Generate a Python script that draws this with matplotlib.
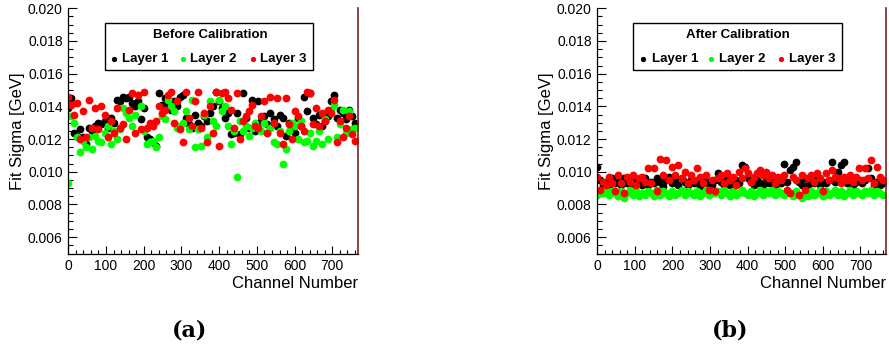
import matplotlib
matplotlib.use("Agg")
import matplotlib.pyplot as plt
from matplotlib.patches import Rectangle
from matplotlib.ticker import MultipleLocator, FormatStrFormatter

plt.rcParams['font.family'] = ['Liberation Sans', 'DejaVu Sans']

# channel numbers (one point every 8 channels per layer)
channels = list(range(0, 768, 8))

# ---- Before calibration: fit sigma in MeV ----
before_layer1 = [
    13.9, 14.5, 12.4, 12.2, 12.6, 12.1, 11.7, 12.7,
    12.5, 12.8, 13.0, 12.9, 13.1, 12.7, 13.3, 13.0,
    14.4, 14.3, 14.6, 14.5, 14.6, 14.2, 14.0, 14.3,
    13.2, 13.9, 12.1, 12.0, 11.8, 11.6, 14.8, 14.1,
    14.5, 14.1, 13.8, 14.3, 14.0, 14.6, 14.7, 13.3,
    12.9, 12.7, 13.5, 13.0, 12.8, 13.4, 13.1, 13.6,
    14.0, 14.9, 14.3, 13.9, 13.3, 13.6, 12.3, 12.4,
    13.6, 12.3, 14.8, 13.3, 12.7, 14.4, 12.5, 14.3,
    13.1, 13.4, 12.9, 13.6, 13.2, 12.8, 13.5, 13.3,
    12.2, 13.0, 12.6, 12.4, 13.3, 12.8, 14.6, 13.7,
    14.8, 13.3, 12.9, 13.5, 12.8, 13.1, 13.4, 14.3,
    14.7, 13.3, 13.8, 13.6, 13.2, 13.8, 13.4, 13.0,
]
before_layer2 = [
    9.3, 13.4, 13.0, 12.1, 11.2, 11.9, 11.5, 12.1,
    11.4, 12.2, 11.9, 11.8, 12.4, 12.8, 11.7, 12.5,
    12.0, 12.6, 13.9, 13.6, 13.3, 12.8, 13.5, 14.7,
    14.0, 12.5, 11.7, 11.8, 11.9, 11.5, 12.1, 13.4,
    13.2, 14.4, 14.0, 13.7, 12.7, 12.8, 13.0, 13.7,
    12.6, 14.4, 11.5, 12.6, 11.6, 13.5, 12.1, 14.3,
    13.1, 12.8, 14.4, 13.7, 14.0, 12.8, 11.7, 12.5,
    9.7, 13.1, 12.5, 12.8, 12.2, 12.7, 13.0, 12.7,
    12.5, 13.0, 12.4, 12.7, 11.8, 11.7, 12.5, 10.5,
    11.4, 12.5, 13.0, 12.8, 12.0, 13.1, 11.8, 11.9,
    12.4, 11.6, 11.9, 12.5, 11.7, 13.2, 12.0, 13.8,
    14.1, 12.1, 12.9, 13.8, 12.4, 13.7, 12.6, 12.7,
]
before_layer3 = [
    14.6, 14.1, 13.5, 14.2, 12.0, 13.7, 12.1, 14.4,
    12.7, 13.9, 12.6, 14.0, 13.5, 12.1, 13.1, 12.4,
    13.9, 12.7, 12.9, 12.0, 13.8, 14.8, 12.4, 14.7,
    12.6, 14.9, 12.7, 13.0, 12.8, 13.1, 14.0, 13.6,
    13.8, 14.7, 14.9, 13.0, 14.3, 12.6, 11.8, 14.9,
    13.3, 12.8, 14.3, 14.9, 12.7, 13.6, 11.8, 14.0,
    12.4, 14.9, 11.6, 14.8, 14.9, 14.5, 13.8, 12.7,
    14.8, 12.0, 13.1, 13.4, 13.7, 14.1, 12.8, 12.7,
    13.4, 14.3, 12.4, 14.6, 13.0, 14.5, 12.4, 11.7,
    14.5, 12.9, 12.0, 13.7, 13.4, 12.8, 12.5, 14.9,
    14.8, 12.9, 13.9, 12.8, 13.6, 13.1, 13.8, 13.6,
    14.4, 11.8, 13.1, 12.1, 12.7, 13.4, 12.3, 11.9,
]

# ---- After calibration: fit sigma in MeV ----
after_layer1 = [
    10.3, 9.5, 9.2, 9.4, 9.1, 9.6, 9.3, 9.4,
    9.2, 9.6, 9.3, 9.5, 9.1, 9.5, 9.4, 9.2,
    9.6, 9.2, 9.4, 9.3, 9.6, 9.4, 9.1, 9.5,
    9.7, 9.3, 9.5, 9.2, 9.6, 9.4, 9.2, 9.5,
    9.3, 9.5, 9.1, 9.6, 9.3, 9.4, 9.2, 9.5,
    9.9, 9.4, 9.2, 9.6, 9.2, 9.4, 9.5, 9.3,
    10.4, 10.3, 9.6, 9.4, 9.2, 9.5, 9.3, 9.2,
    9.6, 9.3, 9.4, 9.1, 9.5, 9.3, 10.5, 9.4,
    10.1, 10.3, 10.6, 9.4, 9.2, 9.6, 9.2, 9.4,
    9.3, 9.6, 9.2, 9.4, 9.3, 9.5, 10.6, 9.4,
    10.0, 10.4, 10.6, 9.3, 9.6, 9.2, 9.4, 9.5,
    9.3, 9.5, 10.2, 9.6, 9.2, 9.4, 9.2, 9.3,
]
after_layer2 = [
    8.6, 8.8, 8.7, 8.9, 8.6, 8.8, 8.7, 8.5,
    8.8, 8.4, 8.7, 8.9, 8.6, 8.8, 8.5, 8.7,
    8.6, 8.8, 8.7, 8.5, 8.9, 8.6, 8.8, 8.7,
    8.5, 8.8, 8.6, 8.7, 8.9, 8.6, 8.8, 8.7,
    8.6, 8.8, 8.5, 8.7, 8.9, 8.6, 8.8, 8.7,
    8.8, 8.6, 8.9, 8.7, 8.5, 8.8, 8.6, 8.7,
    8.9, 8.7, 8.6, 8.8, 8.5, 8.7, 8.9, 8.6,
    8.8, 8.7, 8.9, 8.6, 8.8, 8.7, 8.6, 8.8,
    8.7, 8.5, 8.8, 8.6, 8.4, 8.7, 8.5, 8.8,
    8.6, 8.7, 8.9, 8.5, 8.8, 8.6, 8.7, 8.9,
    8.6, 8.8, 8.5, 8.7, 8.9, 8.6, 8.8, 8.7,
    8.6, 8.8, 8.7, 8.9, 8.6, 8.8, 8.7, 8.6,
]
after_layer3 = [
    9.7, 8.9, 9.4, 9.2, 9.7, 9.3, 8.8, 9.8,
    9.3, 8.7, 9.7, 9.4, 9.8, 9.2, 9.6, 9.7,
    9.4, 10.2, 9.3, 10.2, 8.8, 10.8, 9.8, 10.7,
    9.5, 10.3, 9.8, 10.4, 9.6, 10.0, 9.3, 9.8,
    9.5, 10.2, 9.7, 9.3, 9.8, 8.9, 9.5, 8.8,
    9.6, 9.8, 9.3, 9.9, 9.5, 9.7, 9.2, 10.0,
    9.6, 10.2, 9.9, 9.4, 9.7, 9.9, 10.1, 9.8,
    10.0, 9.6, 9.8, 9.3, 9.7, 9.5, 9.8, 8.9,
    8.7, 9.7, 9.5, 8.6, 9.8, 8.9, 9.6, 9.8,
    9.4, 9.9, 9.6, 8.8, 9.9, 9.5, 10.1, 9.7,
    9.6, 9.3, 9.7, 9.5, 9.8, 9.4, 9.7, 10.2,
    9.5, 10.2, 9.6, 10.7, 9.3, 10.3, 9.7, 9.5,
]

layer_labels = ["Layer 1", "Layer 2", "Layer 3"]
layer_colors = ["#000000", "#00ff00", "#ff0000"]
panel_titles = ["Before Calibration", "After Calibration"]
panel_tags = ["(a)", "(b)"]

W, H = 889, 351
fig = plt.figure(figsize=(W / 100, H / 100), dpi=100)

axes_px = [(68.3, 358.0), (597.3, 886.0)]
top_px, bot_px = 8.3, 253.5
legend_geom = [
    dict(x0=0.127, x1=0.845, tx=0.489, mk=[0.158, 0.396, 0.638], lt=[0.186, 0.420, 0.662]),
    dict(x0=0.124, x1=0.848, tx=0.487, mk=[0.157, 0.393, 0.635], lt=[0.188, 0.423, 0.665]),
]

datasets = [
    [before_layer1, before_layer2, before_layer3],
    [after_layer1, after_layer2, after_layer3],
]

for p in range(2):
    l, r = axes_px[p]
    ax = fig.add_axes([l / W, 1 - bot_px / H, (r - l) / W, (bot_px - top_px) / H])
    for vals, col in zip(datasets[p], layer_colors):
        ax.plot(channels, [v / 1000.0 for v in vals], linestyle="none", marker="o",
                markersize=5.6, markeredgewidth=0, color=col)
    ax.set_xlim(0, 768)
    ax.set_ylim(0.005, 0.020)
    ax.yaxis.set_minor_locator(MultipleLocator(0.0005))
    ax.set_yticks([0.006, 0.008, 0.010, 0.012, 0.014, 0.016, 0.018, 0.020])
    ax.yaxis.set_major_formatter(FormatStrFormatter("%.3f"))
    ax.xaxis.set_major_locator(MultipleLocator(100))
    ax.xaxis.set_minor_locator(MultipleLocator(20))
    ax.tick_params(which="both", direction="in", top=False, right=False,
                   labelsize=10, colors="black", width=0.8)
    ax.tick_params(axis="y", which="major", length=6.5, pad=4)
    ax.tick_params(axis="y", which="minor", length=3.3)
    ax.tick_params(axis="x", which="major", length=6, pad=4)
    ax.tick_params(axis="x", which="minor", length=3)
    ax.spines["top"].set_visible(False)
    ax.spines["right"].set_color("#7a2222")
    ax.spines["right"].set_linewidth(1.2)
    for s in ("left", "bottom"):
        ax.spines[s].set_linewidth(0.9)
    ax.set_xlabel("Channel Number", fontsize=12, loc="right", labelpad=2)
    ax.set_ylabel("Fit Sigma [GeV]", fontsize=12, labelpad=2)

    g = legend_geom[p]
    ax.add_patch(Rectangle((g["x0"], 0.748), g["x1"] - g["x0"], 0.940 - 0.748,
                           transform=ax.transAxes, facecolor="white",
                           edgecolor="black", linewidth=1.0, zorder=5))
    ax.text(g["tx"], 0.891, panel_titles[p], transform=ax.transAxes, ha="center",
            va="center", fontsize=9.5, fontweight="bold", zorder=6)
    for mx, tx, lab, col in zip(g["mk"], g["lt"], layer_labels, layer_colors):
        ax.plot([mx], [0.793], transform=ax.transAxes, marker="o", markersize=3.8,
                markeredgewidth=0, color=col, zorder=6, clip_on=False)
        ax.text(tx, 0.793, lab, transform=ax.transAxes, ha="left", va="center",
                fontsize=9.5, fontweight="bold", zorder=6)

fig.text(190 / W, 1 - 330 / H, panel_tags[0], ha="center", va="center",
         fontsize=16, fontweight="bold", family="DejaVu Serif")
fig.text(730 / W, 1 - 330 / H, panel_tags[1], ha="center", va="center",
         fontsize=16, fontweight="bold", family="DejaVu Serif")

fig.savefig("out.png", dpi=100)
